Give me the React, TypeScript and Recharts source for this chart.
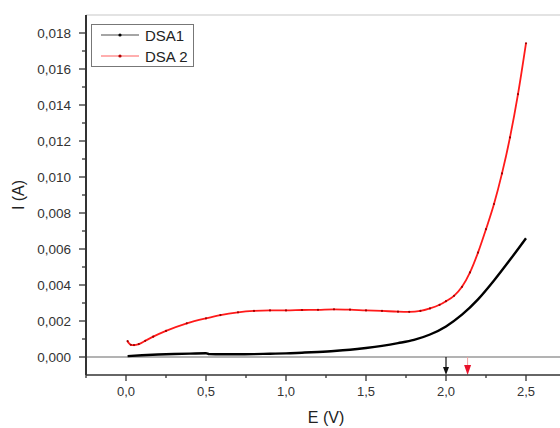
import React from "react";
import { LineChart, Line, XAxis, YAxis, ReferenceLine, Legend } from "recharts";

const SERIES = ["DSA1", "DSA 2"];

const E_DSA1 = [0.01, 0.1, 0.2, 0.3, 0.4, 0.5, 0.52, 0.6, 0.7, 0.8, 0.9, 1.0, 1.1, 1.2, 1.3, 1.4, 1.5, 1.6, 1.7, 1.8, 1.9, 2.0, 2.1, 2.2, 2.3, 2.4, 2.5];
const I_DSA1 = [0.00005, 0.0001, 0.00014, 0.00017, 0.00019, 0.00021, 0.00016, 0.00015, 0.00015, 0.00016, 0.00018, 0.0002, 0.00024, 0.00028, 0.00033, 0.0004, 0.0005, 0.00062, 0.00077, 0.00095, 0.00125, 0.0017, 0.00235, 0.0032, 0.00425, 0.0054, 0.0066];

const E_DSA2 = [0.01, 0.03, 0.05, 0.08, 0.12, 0.17, 0.25, 0.38, 0.5, 0.59, 0.7, 0.8, 0.9, 1.0, 1.1, 1.2, 1.3, 1.4, 1.5, 1.6, 1.7, 1.77, 1.84, 1.9, 1.96, 2.0, 2.05, 2.1, 2.15, 2.2, 2.25, 2.3, 2.35, 2.4, 2.45, 2.5];
const I_DSA2 = [0.00088, 0.00068, 0.00066, 0.00072, 0.0009, 0.00113, 0.00145, 0.00187, 0.00215, 0.00233, 0.00248, 0.00256, 0.00259, 0.00259, 0.00261, 0.00262, 0.00265, 0.00263, 0.00259, 0.00256, 0.00252, 0.00251, 0.00256, 0.0027, 0.0029, 0.0031, 0.0034, 0.0039, 0.0047, 0.0058, 0.0071, 0.0085, 0.0102, 0.0122, 0.0146, 0.01743];

const X_MAJOR = [0, 0.5, 1.0, 1.5, 2.0, 2.5];
const X_MINOR = [-0.25, 0.25, 0.75, 1.25, 1.75, 2.25, 2.75];
const Y_MAJOR = [0, 0.002, 0.004, 0.006, 0.008, 0.01, 0.012, 0.014, 0.016, 0.018];
const Y_MINOR = [0.001, 0.003, 0.005, 0.007, 0.009, 0.011, 0.013, 0.015, 0.017];

const ARROW_E = [2.0, 2.135];
const ARROW_LINE = ["#111111", "#f4a0a0"];
const ARROW_HEAD = ["#111111", "#e8102a"];

const X_DOMAIN = [-0.25, 2.75];
const Y_DOMAIN = [-0.001, 0.019];

const dsa1 = E_DSA1.map((e, i) => ({ E: e, I: I_DSA1[i] }));
const dsa2 = E_DSA2.map((e, i) => ({ E: e, I: I_DSA2[i] }));

const FONT = "'Liberation Sans', Arial, sans-serif";
const TXT = "#333";

const isIn = (arr: number[], v: number) => arr.some((a) => Math.abs(a - v) < 1e-9);

const XTick = (props: any) => {
  const { x, y, payload } = props;
  const major = isIn(X_MAJOR, payload.value);
  return (
    <g>
      <line x1={x} y1={y} x2={x} y2={y + (major ? 6 : 3)} stroke="#333" strokeWidth={1.3} />
      {major && (
        <text x={x} y={y + 21} textAnchor="middle" fontSize={13} fontFamily={FONT} fill={TXT}>
          {payload.value.toFixed(1).replace(".", ",")}
        </text>
      )}
    </g>
  );
};

const YTick = (props: any) => {
  const { x, y, payload } = props;
  const major = isIn(Y_MAJOR, payload.value);
  return (
    <g>
      <line x1={x} y1={y} x2={x - (major ? 7 : 4)} y2={y} stroke="#333" strokeWidth={1.3} />
      {major && (
        <text x={x - 15} y={y + 4.5} textAnchor="end" fontSize={13.5} fontFamily={FONT} fill={TXT}>
          {payload.value.toFixed(3).replace(".", ",")}
        </text>
      )}
    </g>
  );
};

const makeArrow = (i: number) => (props: any) => {
  const { x1, y1, x2, y2 } = props;
  const top = Math.min(y1, y2);
  const bot = Math.max(y1, y2);
  const head = i === 0 ? 8 : 10;
  const w = i === 0 ? 3 : 3.5;
  return (
    <g>
      <line x1={x1} y1={top} x2={x2} y2={bot - head + 1} stroke={ARROW_LINE[i]} strokeWidth={i === 0 ? 1.2 : 1} />
      <polygon points={`${x2 - w},${bot - head} ${x2 + w},${bot - head} ${x2},${bot}`} fill={ARROW_HEAD[i]} />
    </g>
  );
};

const LegendBox = (props: any) => {
  const payload = [...(props.payload || [])].sort(
    (a: any, b: any) => SERIES.indexOf(a.value) - SERIES.indexOf(b.value)
  );
  return (
    <div
      style={{
        border: "1px solid #777",
        width: 103,
        height: 43,
        boxSizing: "border-box",
        background: "#fff",
        display: "flex",
        flexDirection: "column",
        justifyContent: "center",
        fontFamily: FONT,
      }}
    >
      {payload.map((p: any) => (
        <div key={p.value} style={{ display: "flex", alignItems: "center", height: 21 }}>
          <svg width={38} height={12} style={{ marginLeft: 9, marginRight: 6 }}>
            <line x1={0} y1={6} x2={38} y2={6} stroke={p.color} strokeWidth={1} opacity={0.7} />
            <circle cx={19} cy={6} r={1.6} fill={p.color === "#000000" ? "#000" : "#b00000"} />
          </svg>
          <span style={{ fontSize: 15, color: "#222", lineHeight: "21px" }}>{p.value}</span>
        </div>
      ))}
    </div>
  );
};

export default function App() {
  return (
    <div style={{ position: "absolute", left: 0, top: 0, width: 560, height: 428, overflow: "hidden", background: "#fff" }}>
      <LineChart width={580} height={428} margin={{ top: 15, right: 14, bottom: 3, left: 16 }}>
        <XAxis
          type="number"
          dataKey="E"
          domain={X_DOMAIN}
          ticks={[...X_MINOR, ...X_MAJOR].sort((a, b) => a - b)}
          interval={0}
          allowDataOverflow
          height={50}
          tickSize={0}
          tickMargin={0}
          tickLine={false}
          tick={<XTick />}
          axisLine={{ stroke: "#333", strokeWidth: 1.6 }}
          label={{ value: "E (V)", position: "insideBottom", offset: 2, style: { fontSize: 16, fontFamily: FONT, fill: "#222" } }}
        />
        <YAxis
          type="number"
          domain={Y_DOMAIN}
          ticks={[...Y_MINOR, ...Y_MAJOR].sort((a, b) => a - b)}
          interval={0}
          allowDataOverflow
          width={70}
          tickSize={0}
          tickMargin={0}
          tickLine={false}
          tick={<YTick />}
          axisLine={{ stroke: "#333", strokeWidth: 2 }}
          label={{ value: "I (A)", angle: -90, position: "insideLeft", offset: 2, style: { fontSize: 16, fontFamily: FONT, fill: "#222", textAnchor: "middle" } }}
        />
        <ReferenceLine y={0.019} stroke="#c8c8c8" strokeWidth={1.2} />
        <ReferenceLine y={0} stroke="#9a9a9a" strokeWidth={1.5} />
        {ARROW_E.map((e, i) => (
          <ReferenceLine key={i} segment={[{ x: e, y: 0 }, { x: e, y: -0.001 }]} shape={makeArrow(i)} ifOverflow="visible" />
        ))}
        <Line
          data={dsa1}
          dataKey="I"
          name={SERIES[0]}
          type="monotone"
          stroke="#000000"
          strokeWidth={2.4}
          dot={false}
          isAnimationActive={false}
        />
        <Line
          data={dsa2}
          dataKey="I"
          name={SERIES[1]}
          type="monotone"
          stroke="#ff1a1a"
          strokeWidth={1.8}
          dot={{ r: 1.1, fill: "#a00000", stroke: "none" }}
          isAnimationActive={false}
        />
        <Legend
          layout="vertical"
          align="center"
          verticalAlign="middle"
          content={<LegendBox />}
          wrapperStyle={{ left: 91, top: 24, width: "auto" }}
        />
      </LineChart>
    </div>
  );
}
